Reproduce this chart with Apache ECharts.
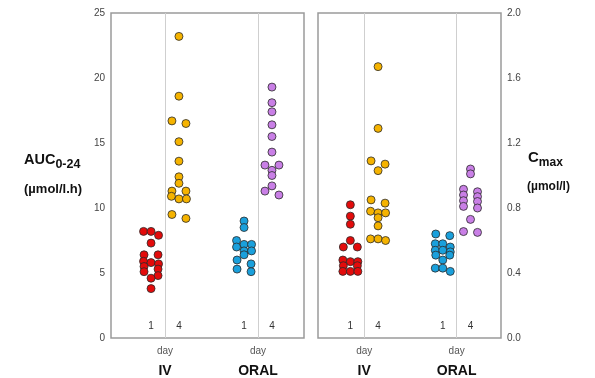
<!DOCTYPE html>
<html><head><meta charset="utf-8">
<script src="https://cdn.jsdelivr.net/npm/echarts@6/dist/echarts.min.js"></script>
<style>html,body{margin:0;padding:0;background:#fff}#c{width:595px;height:378px}</style>
</head><body><div id="c"></div><script>
// ---- data ----
const groups = ['IV', 'ORAL'];
const dayLabels = ['1', '4'];
const aucTicks = [0, 5, 10, 15, 20, 25];
const cmaxTicks = [0, 0.4, 0.8, 1.2, 1.6, 2.0];
const aucIVDay1 = [8.2, 8.2, 7.9, 7.3, 6.4, 6.4, 5.9, 5.8, 5.7, 5.5, 5.3, 5.1, 4.8, 4.6, 3.8];
const aucIVDay4 = [23.2, 18.6, 16.7, 16.5, 15.1, 13.6, 12.4, 11.9, 11.3, 11.3, 10.9, 10.7, 10.7, 9.5, 9.2];
const aucOralDay1 = [9.0, 8.5, 7.5, 7.2, 7.2, 7.0, 6.7, 6.7, 6.4, 6.0, 5.7, 5.3, 5.1];
const aucOralDay4 = [19.3, 18.1, 17.4, 16.4, 15.5, 14.3, 13.3, 13.3, 12.9, 12.5, 11.7, 11.3, 11.0];
const cmaxIVDay1 = [0.82, 0.75, 0.70, 0.60, 0.56, 0.56, 0.48, 0.47, 0.47, 0.445, 0.445, 0.41, 0.41, 0.41];
const cmaxIVDay4 = [1.67, 1.29, 1.09, 1.07, 1.03, 0.85, 0.83, 0.78, 0.77, 0.77, 0.74, 0.69, 0.61, 0.61, 0.60];
const cmaxOralDay1 = [0.64, 0.63, 0.58, 0.58, 0.56, 0.54, 0.54, 0.53, 0.51, 0.51, 0.48, 0.43, 0.43, 0.41];
const cmaxOralDay4 = [1.04, 1.01, 0.915, 0.90, 0.88, 0.87, 0.845, 0.84, 0.81, 0.80, 0.73, 0.655, 0.65];

// ---- layout / style ----
const FONT = '"Liberation Sans", Arial, sans-serif';
const colors = ['#e30b0b', '#f5b300', '#1aa0dc', '#c97fe6'];
const groupCenters = [1, 3];
const dayShift = 0.3;
const G = [
  {left: 111, top: 13, width: 193, height: 325, xmin: -0.161, xmax: 3.989, ymax: 25, interval: 5, ticks: aucTicks},
  {left: 318, top: 13, width: 183, height: 325, xmin: 0, xmax: 3.96, ymax: 2, interval: 0.4, ticks: cmaxTicks}
];
const SYM = 8;
const ROW_TOL = 4;      // px: points closer than this share a row
const PAIR_HALF = 7;    // px: half gap of a two-point row
const STEP = 7.5;       // px: spacing in wider rows

// dot-plot layout: rows of points spread symmetrically about the column centre
function dotRows(values, g, center) {
  const pxX = g.width / (g.xmax - g.xmin);
  const pxY = g.height / g.ymax;
  const order = values.map((v, i) => i).sort((a, b) => values[b] - values[a]);
  const rows = [];
  order.forEach(i => {
    const r = rows[rows.length - 1];
    if (r && (values[r[0]] - values[i]) * pxY <= ROW_TOL) r.push(i); else rows.push([i]);
  });
  const out = new Array(values.length);
  rows.forEach(r => {
    const n = r.length;
    r.forEach((i, k) => {
      const off = n === 2 ? (k ? PAIR_HALF : -PAIR_HALF) : (k - (n - 1) / 2) * STEP;
      out[i] = [center + off / pxX, values[i]];
    });
  });
  return out;
}

const panelData = [
  [[aucIVDay1, aucIVDay4], [aucOralDay1, aucOralDay4]],
  [[cmaxIVDay1, cmaxIVDay4], [cmaxOralDay1, cmaxOralDay4]]
];

const dayPos = [];
groupCenters.forEach(c => { dayPos.push(c - dayShift, c + dayShift); });

const grids = [], xAxes = [], yAxes = [], series = [];
G.forEach((g, pi) => {
  grids.push({left: g.left, top: g.top, width: g.width, height: g.height, show: true,
    borderColor: '#9a9a9a', borderWidth: 1.5, backgroundColor: 'transparent', containLabel: false});
  const base = {type: 'value', gridIndex: pi, position: 'bottom', min: g.xmin, max: g.xmax,
    axisLine: {show: false}, axisTick: {show: false}, splitLine: {show: false}};
  xAxes.push(Object.assign({}, base, {
    axisLabel: {inside: true, margin: 7, customValues: dayPos, fontSize: 10, color: '#333', fontFamily: FONT,
      formatter: v => dayLabels[dayPos.findIndex(d => Math.abs(d - v) < 1e-6) % 2]}
  }));
  xAxes.push(Object.assign({}, base, {
    offset: 0,
    axisLabel: {margin: 5, customValues: groupCenters, fontFamily: FONT,
      formatter: v => '{d|day}\n{g|' + groups[groupCenters.findIndex(c => Math.abs(c - v) < 1e-6)] + '}',
      rich: {d: {fontSize: 10, color: '#555', lineHeight: 16, fontFamily: FONT},
             g: {fontSize: 14, fontWeight: 'bold', color: '#111', lineHeight: 24, fontFamily: FONT}}}
  }));
  yAxes.push({type: 'value', gridIndex: pi, min: 0, max: g.ymax, interval: g.interval,
    position: pi === 0 ? 'left' : 'right',
    axisLine: {show: false}, axisTick: {show: false}, splitLine: {show: false},
    axisLabel: {fontSize: 10, color: '#444', margin: 6, fontFamily: FONT, customValues: g.ticks,
      formatter: v => pi === 0 ? String(v) : v.toFixed(1)}});
  // separators
  series.push({type: 'scatter', xAxisIndex: pi * 2, yAxisIndex: pi, data: [], z: 1, silent: true,
    markLine: {silent: true, symbol: 'none', label: {show: false}, animation: false,
      lineStyle: {color: '#cfcfcf', width: 1, type: 'solid'},
      data: groupCenters.map(c => ({xAxis: c}))}});
  panelData[pi].forEach((grp, gi) => {
    grp.forEach((vals, di) => {
      series.push({type: 'scatter', xAxisIndex: pi * 2, yAxisIndex: pi, z: 3,
        symbol: 'circle', symbolSize: SYM,
        itemStyle: {color: colors[gi * 2 + di], borderColor: '#2a2a2a', borderWidth: 0.8, opacity: 1},
        data: dotRows(vals, G[pi], groupCenters[gi] + (di ? dayShift : -dayShift))});
    });
  });
});

const chart = echarts.init(document.getElementById('c'), null, {renderer: 'canvas'});
chart.setOption({
  animation: false,
  backgroundColor: '#fff',
  textStyle: {fontFamily: FONT},
  grid: grids, xAxis: xAxes, yAxis: yAxes, series: series,
  graphic: [
    {type: 'text', left: 24, top: 152, style: {text: '{a|AUC}{s|0-24}', fontFamily: FONT,
      rich: {a: {fontSize: 14.5, fontWeight: 'bold', fill: '#111', fontFamily: FONT},
             s: {fontSize: 12.5, fontWeight: 'bold', fill: '#111', padding: [10, 0, 0, 0], fontFamily: FONT}}}},
    {type: 'text', left: 24, top: 183, style: {text: '(µmol/l.h)', fontSize: 13, fontWeight: 'bold', fill: '#111', fontFamily: FONT}},
    {type: 'text', left: 528, top: 150, style: {text: '{a|C}{s|max}', fontFamily: FONT,
      rich: {a: {fontSize: 15, fontWeight: 'bold', fill: '#111', fontFamily: FONT},
             s: {fontSize: 12, fontWeight: 'bold', fill: '#111', padding: [10, 0, 0, 0], fontFamily: FONT}}}},
    {type: 'text', left: 527, top: 181, style: {text: '(µmol/l)', fontSize: 12, fontWeight: 'bold', fill: '#111', fontFamily: FONT}}
  ]
});
</script></body></html>
